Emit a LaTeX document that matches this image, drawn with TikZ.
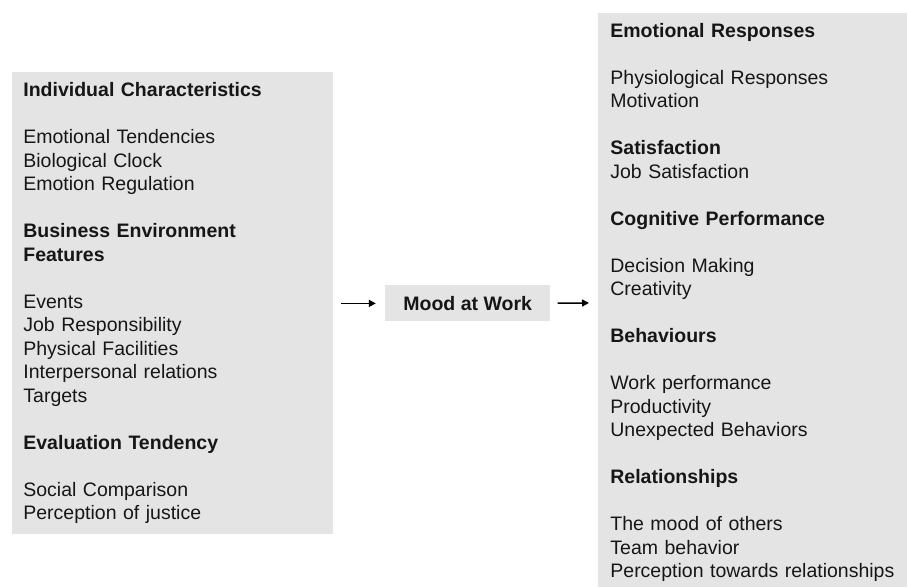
\documentclass[tikz,border=0pt]{standalone}
\usepackage{fontspec}
\setmainfont{Liberation Sans}
\usetikzlibrary{arrows.meta, positioning}

\definecolor{panelgray}{RGB}{229,228,229}
\definecolor{ink}{RGB}{22,22,22}

\begin{document}
\begin{tikzpicture}[
  x=0.5pt, y=0.5pt,
  node distance=25.5pt,
  every node/.style={font=\fontsize{9.75pt}{11.75pt}\selectfont, text=ink},
  panel/.style={fill=panelgray, rectangle, align=left, inner xsep=5.5pt, inner ysep=0pt, anchor=north west},
  moodbox/.style={fill=panelgray, rectangle, minimum width=82.5pt, minimum height=18pt, inner sep=0pt, font=\fontsize{9.75pt}{11.75pt}\selectfont\bfseries},
  arrow/.style={-{Triangle[length=3.5pt, width=3.5pt]}, line width=0.75pt, shorten <=3.5pt, shorten >=4.5pt}
]
\useasboundingbox (0,0) rectangle (907,586);

% Antecedents of mood
\node[panel, text width=149.5pt, minimum height=231pt] (causes) at (12,514) {%
\textbf{Individual Characteristics}\\[11.75pt]
Emotional Tendencies\\
Biological Clock\\
Emotion Regulation\\[11.75pt]
\textbf{Business Environment}\\
\textbf{Features}\\[11.75pt]
Events\\
Job Responsibility\\
Physical Facilities\\
Interpersonal relations\\
Targets\\[11.75pt]
\textbf{Evaluation Tendency}\\[11.75pt]
Social Comparison\\
Perception of justice};

% Mood
\node[moodbox, right=of causes] (mood) {Mood at Work};

% Consequences of mood
\node[panel, text width=145pt, inner xsep=6pt, minimum height=289pt] (effects) at (598,573) {%
\textbf{Emotional Responses}\\[11.75pt]
Physiological Responses\\
Motivation\\[11.75pt]
\textbf{Satisfaction}\\
Job Satisfaction\\[11.75pt]
\textbf{Cognitive Performance}\\[11.75pt]
Decision Making\\
Creativity\\[11.75pt]
\textbf{Behaviours}\\[11.75pt]
Work performance\\
Productivity\\
Unexpected Behaviors\\[11.75pt]
\textbf{Relationships}\\[11.75pt]
The mood of others\\
Team behavior\\
Perception towards relationships};

% Arrows
\draw[arrow] (causes) -- (mood);
\draw[arrow] (mood) -- (effects);

\end{tikzpicture}
\end{document}
